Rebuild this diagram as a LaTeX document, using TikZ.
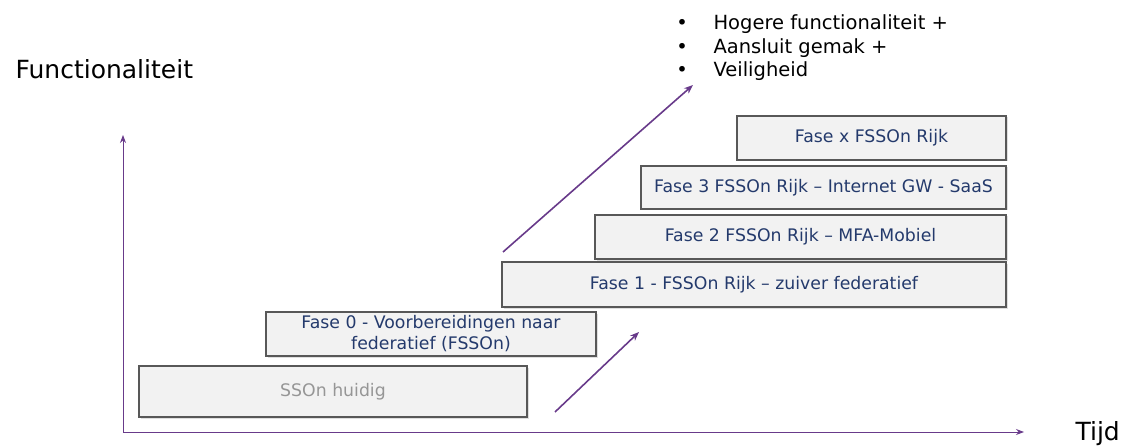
\documentclass[tikz,border=0pt]{standalone}
\usepackage{fontspec}
\setmainfont{DejaVu Sans}
\usetikzlibrary{arrows.meta,shadows}
\definecolor{axispurple}{RGB}{104,58,138}
\definecolor{fasefill}{RGB}{242,242,242}
\definecolor{faseline}{RGB}{88,88,88}
\definecolor{fasetext}{RGB}{36,58,108}
\definecolor{ssontext}{RGB}{150,150,150}

\begin{document}
\begin{tikzpicture}[x=1pt,y=-1pt,
    fasebox/.style={draw=faseline,line width=1.6pt,fill=fasefill,inner sep=0pt,
      align=center,text=fasetext,font=\fontsize{17.3}{21}\selectfont,
      drop shadow={opacity=0.25,shadow xshift=1.5pt,shadow yshift=-1.5pt}},
    purplearrow/.style={draw=axispurple,line width=1.6pt,-{Stealth[length=9pt,width=7pt]}}]
  \useasboundingbox (0,0) rectangle (1126,446);
  % axes
  \coordinate (origin) at (123,432);
  \coordinate (ytop) at (123,135);
  \coordinate (xend) at (1024,432);
  \draw[draw=axispurple,line width=1pt,{Stealth[length=8pt,width=6pt]}-{Stealth[length=8pt,width=6pt]}]
    (ytop) -- (origin) -- (xend);
  \node[anchor=base west,font=\fontsize{25}{30}\selectfont] (ylabel) at (12,79) {Functionaliteit};
  \node[anchor=base west,font=\fontsize{25}{30}\selectfont] (xlabel) at (1072,440) {Tijd};
  % phases
  \node[fasebox,minimum width=388pt,minimum height=51pt,text=ssontext] (sson) at (333,391.5) {SSOn huidig};
  \node[fasebox,minimum width=330pt,minimum height=44pt] (fase0) at (431,334)
    {Fase 0 - Voorbereidingen naar\\federatief (FSSOn)};
  \node[fasebox,minimum width=504pt,minimum height=45pt] (fase1) at (754,284.5)
    {Fase 1 - FSSOn Rijk – zuiver federatief};
  \node[fasebox,minimum width=411pt,minimum height=44pt] (fase2) at (800.5,237)
    {Fase 2 FSSOn Rijk – MFA-Mobiel};
  \node[fasebox,minimum width=365pt,minimum height=43pt] (fase3) at (823.5,187.5)
    {Fase 3 FSSOn Rijk – Internet GW - SaaS};
  \node[fasebox,minimum width=269pt,minimum height=44pt] (fasex) at (871.5,138)
    {Fase x FSSOn Rijk};
  % growth arrows
  \coordinate (smallstart) at (555,412);
  \coordinate (smallend) at (639,332);
  \coordinate (bigstart) at (503,252);
  \coordinate (bigend) at (693,85);
  \draw[purplearrow] (smallstart) -- (smallend);
  \draw[purplearrow] (bigstart) -- (bigend);
  % benefits
  \foreach \yb/\txt [count=\i] in {30/Hogere functionaliteit +,54/Aansluit gemak +,77/Veiligheid} {
    \node[anchor=base,font=\fontsize{19.5}{24}\selectfont] (dot\i) at (682,\yb) {•};
    \node[anchor=base west,font=\fontsize{19.5}{24}\selectfont] (benefit\i) at (710,\yb) {\txt};
  }
\end{tikzpicture}
\end{document}
